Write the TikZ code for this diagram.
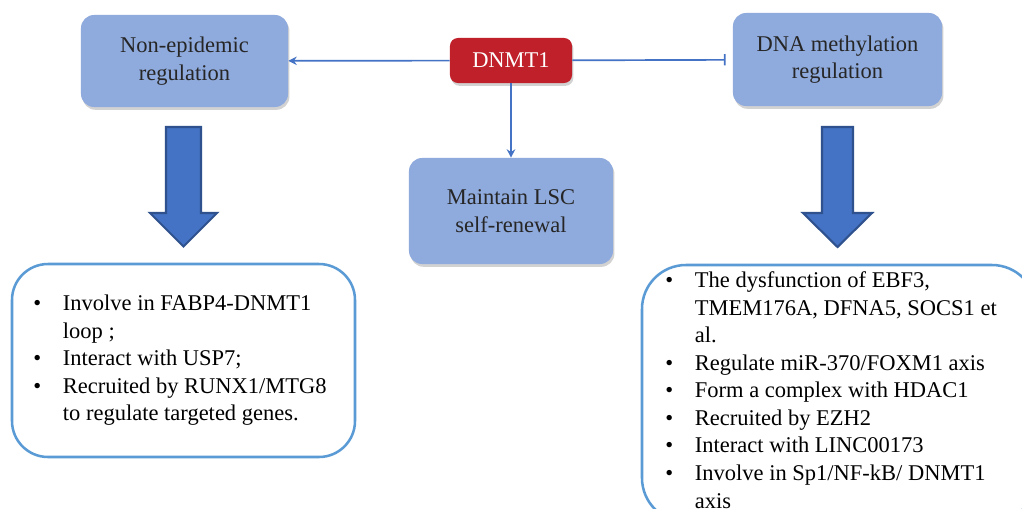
\documentclass[tikz,border=0pt]{standalone}
\usepackage{fontspec}
\setmainfont{Liberation Serif}
\usetikzlibrary{arrows.meta,shadows,positioning}

\definecolor{boxblue}{HTML}{8FAADC}
\definecolor{dnmtred}{HTML}{C0202A}
\definecolor{linkblue}{HTML}{4472C4}
\definecolor{arrowedge}{HTML}{2F528F}
\definecolor{listedge}{HTML}{5B9BD5}

\begin{document}
\begin{tikzpicture}[x=0.025cm, y=-0.025cm,
    every node/.style={font=\fontsize{16}{19.6}\selectfont},
    topic/.style={rectangle, fill=boxblue, rounded corners=0.33cm, align=center, text=black!85,
        drop shadow={shadow xshift=1pt, shadow yshift=-2pt, opacity=0.35}},
    hub/.style={rectangle, fill=dnmtred, rounded corners=0.2cm, text=white,
        minimum width=3.05cm, minimum height=1.125cm,
        drop shadow={shadow xshift=1pt, shadow yshift=-2pt, opacity=0.35}},
    link/.style={draw=linkblue, line width=1.2pt},
    bigarrow/.style={fill=linkblue, draw=arrowedge, line width=1.5pt, line join=miter},
    listbox/.style={draw=listedge, line width=1.8pt, rounded corners=0.9cm},
    listtext/.style={anchor=north west, inner sep=0pt, align=left}
]
\clip (0,0) rectangle (1022,508);
\fill[white] (0,0) rectangle (1022,508);

% top row
\node[topic, minimum width=5.175cm, minimum height=2.3cm] (nonepi) at (184.5,61) {Non-epidemic\\regulation};
\node[hub] (dnmt) at (511,60.5) {DNMT1};
\node[topic, minimum width=5.225cm, minimum height=2.325cm] (dnameth) at (837.5,59.5) {DNA methylation\\regulation};
\node[topic, minimum width=5.1cm, minimum height=2.65cm] (lsc) at (511,211) {Maintain LSC\\self-renewal};

\draw[link, -{Stealth[length=6pt, width=6pt]}] (dnmt) -- (nonepi);
\draw[link, -{Bar[width=8pt]}, shorten >=5pt] (dnmt) -- (dnameth);
\draw[link, -{Stealth[length=6pt, width=6pt]}] (dnmt) -- (lsc);

% block arrows
\draw[bigarrow] (166,127) -- (201,127) -- (201,213) -- (217,213) -- (183.5,246.5)
    -- (150,213) -- (166,213) -- cycle;
\draw[bigarrow] (822,127) -- (853,127) -- (853,213) -- (872,213) -- (837.5,247)
    -- (803,213) -- (822,213) -- cycle;

% left list
\draw[listbox] (12,264) rectangle (355,457);
\node[listtext] (nonepilist) at (33,291) {%
  \begin{tabular}{@{}l@{\hspace{15.5pt}}l@{}}
  \textbullet & Involve in FABP4-DNMT1\\
              & loop ;\\
  \textbullet & Interact with USP7;\\
  \textbullet & Recruited by RUNX1/MTG8\\
              & to regulate targeted genes.
  \end{tabular}};

% right list
\draw[listbox, rounded corners=1.1cm] (642,265) rectangle (1036,522);
\node[listtext] (dnamethlist) at (665,268) {%
  \begin{tabular}{@{}l@{\hspace{15.5pt}}l@{}}
  \textbullet & The dysfunction of EBF3,\\
              & TMEM176A, DFNA5, SOCS1 et\\
              & al.\\
  \textbullet & Regulate miR-370/FOXM1 axis\\
  \textbullet & Form a complex with HDAC1\\
  \textbullet & Recruited by EZH2\\
  \textbullet & Interact with LINC00173\\
  \textbullet & Involve in Sp1/NF-kB/ DNMT1\\
              & axis
  \end{tabular}};

\end{tikzpicture}
\end{document}
